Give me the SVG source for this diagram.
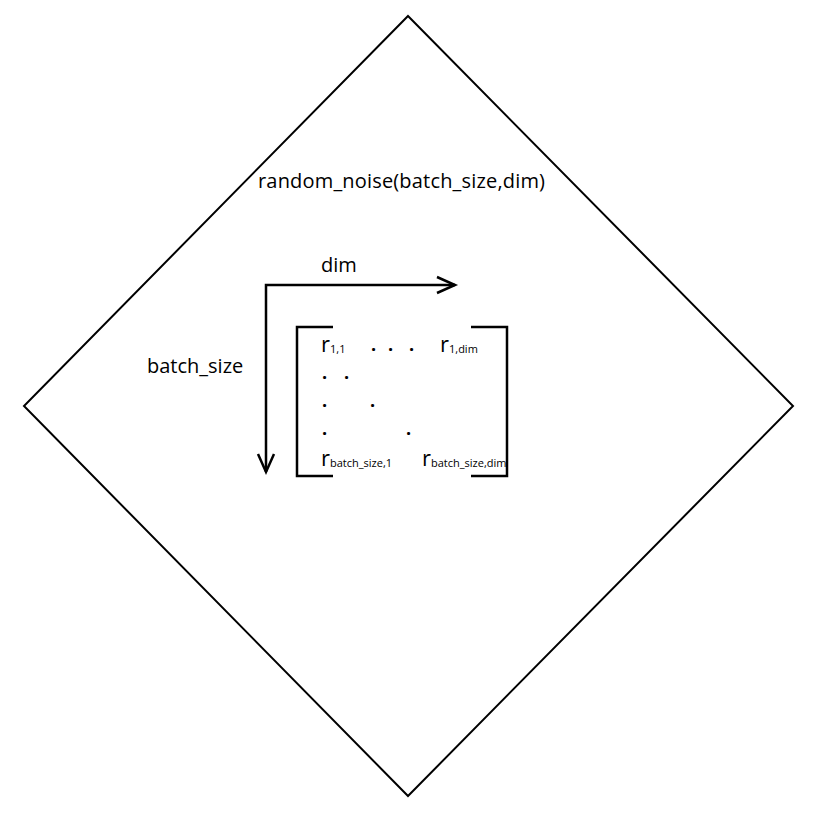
<svg xmlns="http://www.w3.org/2000/svg" width="819" height="815" viewBox="0 0 819 815">
<style>
.ln{fill:none;stroke:#000;stroke-width:2.5;stroke-linecap:butt;stroke-linejoin:miter}
.t{font-family:"Open Sans","Noto Sans",sans-serif;fill:#000}
.big{font-size:20px}
.m{font-size:22px}
.d{font-size:18px;font-weight:bold}
.s{font-size:11px}
</style>
<rect width="819" height="815" fill="#fff"/>
<g id="diamond">
<polygon class="ln" points="408,16 793,406 408,796 24,406" style="stroke-width:2"/>
<text class="t big" x="258" y="188" textLength="287">random_noise(batch_size,dim)</text>
</g>
<g id="connectors">
<path class="ln" d="M266,472 V285 H455"/>
<path class="ln" d="M437,277 L455,285 L437,293"/>
<path class="ln" d="M258,454 L266,472 L274,454"/>
</g>
<g id="dim-label"><text class="t big" x="321" y="272">dim</text></g>
<g id="batch-label"><text class="t big" x="147" y="373">batch_size</text></g>
<g id="matrix">
<path class="ln" d="M333,327 H297 V476 H333"/>
<path class="ln" d="M471,327 H507 V476 H471"/>
<text class="t m" x="321" y="352">r<tspan class="s" dy="1">1,1</tspan></text>
<text class="t d" x="371" y="351">.</text>
<text class="t d" x="388" y="351">.</text>
<text class="t d" x="409" y="351">.</text>
<text class="t m" x="440" y="352">r<tspan class="s" dy="1">1,dim</tspan></text>
<text class="t d" x="322" y="379">.</text>
<text class="t d" x="344" y="379">.</text>
<text class="t d" x="322" y="407">.</text>
<text class="t d" x="370" y="407">.</text>
<text class="t d" x="322" y="435">.</text>
<text class="t d" x="406" y="435">.</text>
<text class="t m" x="321" y="466">r<tspan class="s" dy="1">batch_size,1</tspan></text>
<text class="t m" x="422" y="466">r<tspan class="s" dy="1">batch_size,dim</tspan></text>
</g>
</svg>
